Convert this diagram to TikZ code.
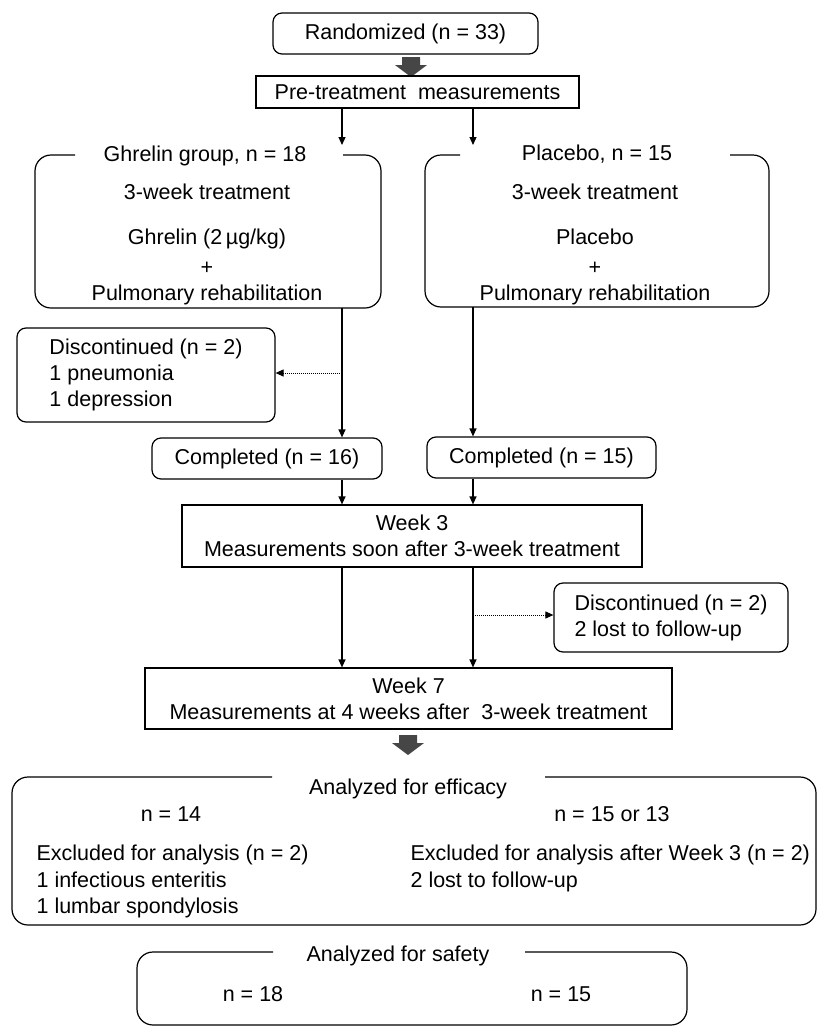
\documentclass[tikz,border=0pt]{standalone}
\usepackage{fontspec}
\setmainfont{Liberation Sans}
\usetikzlibrary{arrows.meta}

\begin{document}
\begin{tikzpicture}[x=1pt, y=-1pt, line width=1.2pt,
        every node/.style={font=\fontsize{21.5}{26}\selectfont, inner sep=0pt},
        rbox/.style={draw, rounded corners=9pt, align=center},
        sbox/.style={draw, align=center},
        frame/.style={rounded corners=16pt},
        txt/.style={anchor=base},
        arr/.style={-{Triangle[length=8pt,width=7pt]}},
        darr/.style={arr, densely dotted, line width=1pt},
        blockarrow/.pic={\fill[gray!55!black] (-9,0) -- (9,0) -- (9,8) -- (16,8) -- (0,20) -- (-16,8) -- (-9,8) -- cycle;}]
        \useasboundingbox (0,0) rectangle (820,1029);

        % columns of the two arms
        \coordinate (gx) at (342,0);
        \coordinate (px) at (473,0);

        \node[rbox, minimum width=265, minimum height=41] (rand) at (405.5,33.5) {Randomized (n = 33)};
        \pic at (411,57) {blockarrow};
        \node[sbox, minimum width=323, minimum height=32] (pre) at (417.5,92) {Pre-treatment~~measurements};
        \coordinate (gin) at (342,145);
        \coordinate (pin) at (473,145);
        \draw[arr] (pre.south -| gx) -- (gin);
        \draw[arr] (pre.south -| px) -- (pin);

        % treatment arms
        \draw[frame] (75,155) -- (35,155) -- (35,308) -- (381,308) -- (381,155) -- (343,155);
        \node[txt] (ghrt) at (205,161) {Ghrelin group, n = 18};
        \node[txt] (ghr1) at (207,199) {3-week treatment};
        \node[txt] (ghr2) at (207,244) {Ghrelin (2\,µg/kg)};
        \node[txt] (ghr3) at (207,274) {+};
        \node[txt] (ghr4) at (207,300) {Pulmonary rehabilitation};

        \draw[frame] (460,155) -- (425,155) -- (425,307) -- (769,307) -- (769,155) -- (730,155);
        \node[txt] (plat) at (597,160) {Placebo, n = 15};
        \node[txt] (pla1) at (595,199) {3-week treatment};
        \node[txt] (pla2) at (595,244) {Placebo};
        \node[txt] (pla3) at (595,274) {+};
        \node[txt] (pla4) at (595,300) {Pulmonary rehabilitation};

        \node[rbox, minimum width=258, minimum height=94, align=left] (disc1) at (146,375)
            {Discontinued (n = 2)\\1 pneumonia\\1 depression};
        \node[rbox, minimum width=230, minimum height=41] (comp1) at (267,458.5) {Completed (n = 16)};
        \node[rbox, minimum width=229, minimum height=41] (comp2) at (541.5,457.5) {Completed (n = 15)};

        \coordinate (gout) at (342,308);
        \coordinate (pout) at (473,307);
        \coordinate (j1) at (342,373);
        \draw[arr] (gout) -- (gout |- comp1.north);
        \draw[arr] (pout) -- (pout |- comp2.north);
        \draw[darr] (j1) -- (j1 -| disc1.east);

        \node[sbox, minimum width=460, minimum height=62] (wk3) at (412,536)
            {Week 3\\Measurements soon after 3-week treatment};
        \draw[arr] (comp1.south -| gx) -- (wk3.north -| gx);
        \draw[arr] (comp2.south -| px) -- (wk3.north -| px);

        \node[rbox, minimum width=234, minimum height=69, align=left] (disc2) at (671,617.5)
            {Discontinued (n = 2)\\2 lost to follow-up};
        \node[sbox, minimum width=527, minimum height=61] (wk7) at (408.5,698.5)
            {Week 7\\Measurements at 4 weeks after~~3-week treatment};
        \coordinate (j2) at (473,615);
        \draw[arr] (wk3.south -| gx) -- (wk7.north -| gx);
        \draw[arr] (wk3.south -| px) -- (wk7.north -| px);
        \draw[darr] (j2) -- (j2 -| disc2.west);
        \pic at (408,735) {blockarrow};

        % analysis sets
        \draw[frame] (272,777) -- (12,777) -- (12,925) -- (816,925) -- (816,777) -- (545,777);
        \node[txt] (efft) at (408,794) {Analyzed for efficacy};
        \node[txt] (eff1) at (171,821) {n = 14};
        \node[txt] (eff2) at (612,821) {n = 15 or 13};
        \node[txt, anchor=base west] (eff3) at (36,860) {Excluded for analysis (n = 2)};
        \node[txt, anchor=base west] (eff4) at (36,887) {1 infectious enteritis};
        \node[txt, anchor=base west] (eff5) at (36,913) {1 lumbar spondylosis};
        \node[txt, anchor=base west] (eff6) at (410,860) {Excluded for analysis after Week 3 (n = 2)};
        \node[txt, anchor=base west] (eff7) at (410,887) {2 lost to follow-up};

        \draw[frame] (273,952) -- (137,952) -- (137,1025) -- (687,1025) -- (687,952) -- (525,952);
        \node[txt] (saft) at (398,961) {Analyzed for safety};
        \node[txt] (saf1) at (253,1001) {n = 18};
        \node[txt] (saf2) at (561,1001) {n = 15};

    \end{tikzpicture}
\end{document}
